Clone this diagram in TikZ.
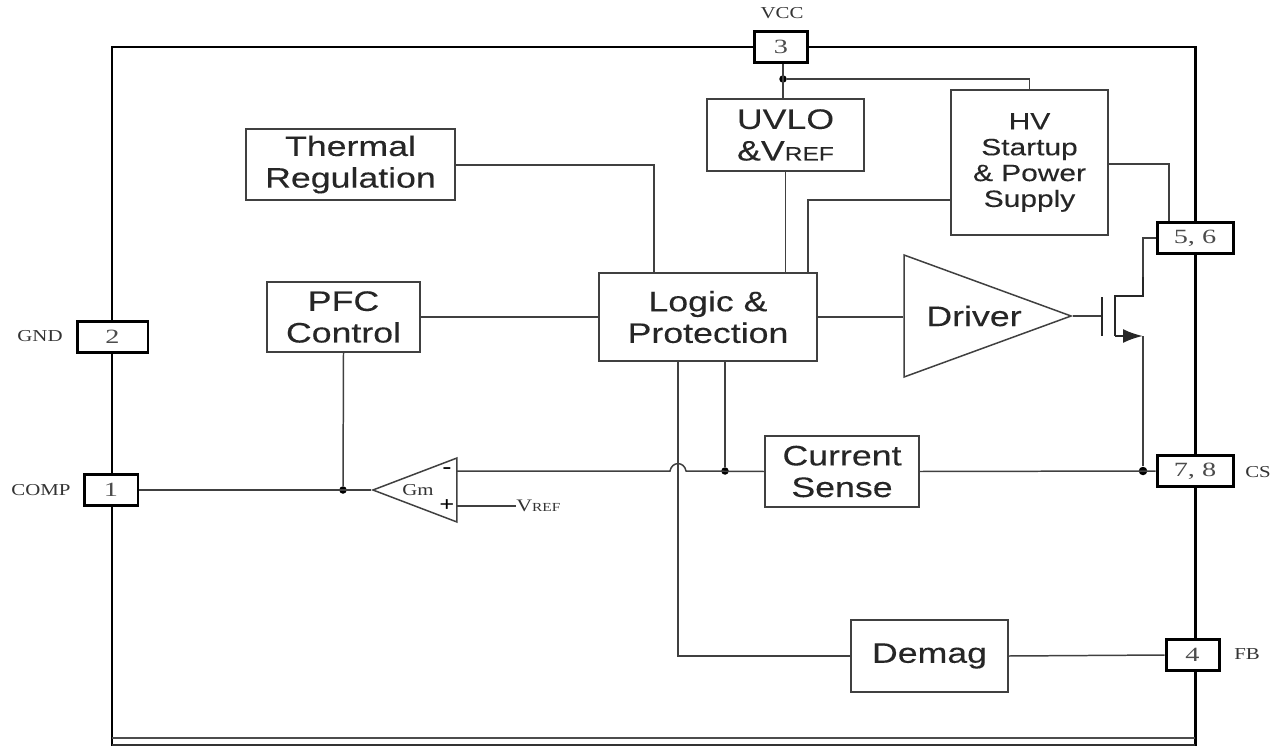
\documentclass[tikz,border=0pt]{standalone}
\usepackage{fontspec}
\usetikzlibrary{arrows.meta, shapes.geometric}

\newfontfamily\blockfont[FakeStretch=1.27, FakeBold=0.2]{Liberation Sans}
\newfontfamily\labelfont[FakeStretch=1.25]{Liberation Serif}
\newfontfamily\digitfont[FakeStretch=1.4]{Liberation Serif}
\newcommand{\blocktext}{\blockfont\fontsize{16}{18}\selectfont}
\newcommand{\hvtext}{\blockfont\fontsize{13.4}{14.7}\selectfont}
\newcommand{\pintext}{\labelfont\fontsize{9.5}{11}\selectfont}
\newcommand{\reftext}[1]{{\fontsize{11}{12}\selectfont #1}}

\colorlet{wire}{black!75}

\tikzset{
	block/.style={draw=wire, line width=0.85pt, fill=white, inner sep=0pt, align=center,
		text=black!85, font=\blocktext},
	pin/.style={draw=black, line width=1.7pt, fill=white, inner sep=0pt, minimum height=0.62cm,
		text=black!70, font=\digitfont\fontsize{11.5}{12}\selectfont},
	pinlabel/.style={inner sep=0pt, text=black!80, font=\pintext},
	connector/.style={draw=wire, line width=0.85pt},
	dot/.style={circle, fill=black, inner sep=0pt, minimum size=0.15cm},
	amp/.style={isosceles triangle, isosceles triangle stretches, draw=wire, line width=0.85pt,
		fill=white, inner sep=0pt},
	sign/.style={inner sep=0pt, font=\labelfont\bfseries\fontsize{12}{12}\selectfont},
	fet/.style={draw=black!85, line width=1.4pt}
}

\begin{document}
\begin{tikzpicture}[x=0.02cm, y=-0.02cm]
	\useasboundingbox (0, 0) rectangle (1283, 746);

	% package outline
	\draw [line width=1.7pt, black] (112, 746) -- (112, 47) -- (1195, 47) -- (1195, 746);
	\draw [line width=1.2pt, black!70] (112, 738) -- (1195, 738);
	\draw [line width=0.8pt, black!80] (112, 745) -- (1195, 745);

	% pins
	\node [pin, minimum width=1.06cm] (pinvcc) at (781, 47) {3};
	\node [pin, minimum width=1.42cm] (pingnd) at (112.5, 337) {2};
	\node [pin, minimum width=1.08cm] (pincomp) at (111, 490) {1};
	\node [pin, minimum width=1.52cm] (pinhv) at (1195, 238) {5, 6};
	\node [pin, minimum width=1.52cm] (pincs) at (1195, 471) {7, 8};
	\node [pin, minimum width=1.06cm] (pinfb) at (1192.5, 655) {4};

	\node [pinlabel] (lblvcc) at (782, 13) {VCC};
	\node [pinlabel] (lblgnd) at (40, 336) {GND};
	\node [pinlabel] (lblcomp) at (41, 490) {COMP};
	\node [pinlabel] (lblcs) at (1258, 472) {CS};
	\node [pinlabel] (lblfb) at (1247, 654) {FB};

	% blocks
	\node [block, minimum width=4.18cm, minimum height=1.42cm] (thermal) at (350.5, 164.5) {Thermal\\Regulation};
	\node [block, minimum width=3.14cm, minimum height=1.44cm] (uvlo) at (785.5, 135) {UVLO\\\&V\reftext{REF}};
	\node [block, minimum width=3.14cm, minimum height=2.9cm, font=\hvtext] (hv) at (1029.5, 162.5) {HV\\Startup\\\& Power\\Supply};
	\node [block, minimum width=3.06cm, minimum height=1.4cm] (pfc) at (343.5, 317) {PFC\\Control};
	\node [block, minimum width=4.36cm, minimum height=1.76cm] (logic) at (708, 317) {Logic \&\\Protection};
	\node [block, minimum width=3.08cm, minimum height=1.42cm] (sense) at (842, 471.5) {Current\\Sense};
	\node [block, minimum width=3.14cm, minimum height=1.44cm] (demag) at (929.5, 656) {Demag};

	\node [amp, minimum width=2.44cm, minimum height=3.34cm, anchor=apex] (driver) at (1073, 316) {};
	\node [inner sep=0pt, text=black!85, font=\blocktext] (drivertext) at (974, 316) {Driver};

	\node [amp, shape border rotate=180, minimum width=1.28cm, minimum height=1.68cm, anchor=apex] (gm) at (371, 490) {};
	\node [pinlabel] (gmtext) at (418, 490) {Gm};
	\node [sign] (gmminus) at (447, 471) {-};
	\node [sign] (gmplus) at (447, 506) {+};
	\node [pinlabel, anchor=west] (vref) at (516, 506) {\fontsize{10}{11}\selectfont V\fontsize{7}{8}\selectfont REF};

	% junctions
	\node [dot] (jvcc) at (783, 79) {};
	\node [dot] (jcomp) at (343, 490) {};
	\node [dot] (jsense) at (725, 471) {};
	\node [dot, minimum size=0.17cm] (jcs) at (1143, 471) {};

	\coordinate (hopa) at (686, 471);
	\coordinate (hopb) at (670, 471);
	\coordinate (gmin) at (457, 471);
	\coordinate (gmref) at (457, 506);

	% connectors
	\draw [connector] (pinvcc.south -| jvcc) -- (uvlo.north -| jvcc);
	\draw [connector] (jvcc) -| (hv.north);
	\draw [connector] (uvlo.south) -- (logic.north -| uvlo.south);
	\coordinate (hvbus) at (808, 200);
	\draw [connector] (hv.west |- hvbus) -- (hvbus) -- (logic.north -| hvbus);
	\coordinate (hvout) at (1169, 164);
	\draw [connector] (hv.east |- hvout) -- (hvout) -- (pinhv.north -| hvout);
	\coordinate (thermalbus) at (654, 165);
	\draw [connector] (thermal.east |- thermalbus) -- (thermalbus) -- (logic.north -| thermalbus);
	\draw [connector] (pfc.east) -- (logic.west);
	\draw [connector] (logic.east) -- (driver.lower side |- logic.east);
	\draw [connector] (pincomp.east) -- (gm.apex);
	\draw [connector] (pfc.south) -- (jcomp);
	\draw [connector] (gmref) -- (vref.west);
	\draw [connector] (pincs.west) -- (sense.east);
	\draw [connector] (sense.west) -- (hopa) to[out=100, in=80, looseness=1.6] (hopb) -- (gmin);
	\draw [connector] (logic.south -| jsense) -- (jsense);
	\coordinate (demagbus) at (678, 656);
	\draw [connector] (logic.south -| demagbus) -- (demagbus) -- (demag.west);
	\draw [connector] (demag.east) -- (pinfb.west);

	% output transistor
	\coordinate (gatein) at (1102, 316);
	\coordinate (gatetop) at (1102, 297);
	\coordinate (gatebot) at (1102, 336);
	\coordinate (chantop) at (1115, 296);
	\coordinate (chanbot) at (1115, 336);
	\coordinate (drain) at (1143, 296);
	\coordinate (drainup) at (1143, 277);
	\coordinate (source) at (1143, 336);
	\draw [connector] (driver.apex) -- (gatein);
	\draw [fet] (gatetop) -- (gatebot);
	\draw [fet] (drainup) -- (drain) -- (chantop) -- (chanbot);
	\draw [fet, -{Latex[length=0.4cm, width=0.28cm]}] (chanbot) -- (source);
	\draw [connector] (pinhv.west) -| (drainup);
	\draw [connector, line width=1pt] (source) -- (jcs);
\end{tikzpicture}
\end{document}
